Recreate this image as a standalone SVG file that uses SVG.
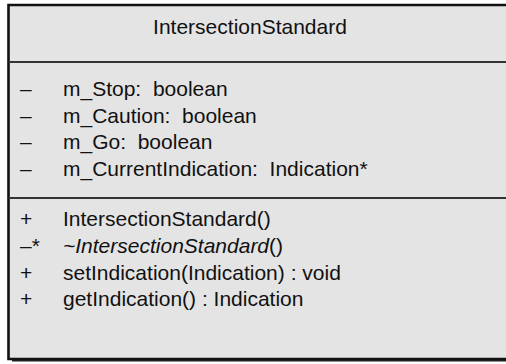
<svg xmlns="http://www.w3.org/2000/svg" width="506" height="364" viewBox="0 0 506 364">
<style>
text{font-family:"Liberation Sans",Arial,Helvetica,sans-serif;font-size:21px;fill:#111;white-space:pre}
.div{stroke:#333;stroke-width:2}
.edge{stroke:#111;stroke-width:2.6;fill:none}
</style>
<rect width="506" height="364" fill="#ffffff"/>
<g id="IntersectionStandard">
<rect x="12" y="8" width="494" height="353.5" fill="#222"/>
<rect x="8.5" y="5" width="497.5" height="354" fill="#e4e4e4"/>
<path class="edge" d="M506 5 H8.5 V359 H506"/>
<text x="250" y="34" text-anchor="middle">IntersectionStandard</text>
<line class="div" x1="8.5" y1="62" x2="506" y2="62"/>
<text x="20" y="96">–</text><text x="63" y="96" xml:space="preserve">m_Stop:  boolean</text>
<text x="20" y="122.5">–</text><text x="63" y="122.5" xml:space="preserve">m_Caution:  boolean</text>
<text x="20" y="149">–</text><text x="63" y="149" xml:space="preserve">m_Go:  boolean</text>
<text x="20" y="175.5">–</text><text x="63" y="175.5" xml:space="preserve">m_CurrentIndication:  Indication*</text>
<line class="div" x1="8.5" y1="198" x2="506" y2="198"/>
<text x="20" y="226">+</text><text x="63" y="226">IntersectionStandard()</text>
<text x="20" y="253">–*</text><text x="63" y="253"><tspan font-style="italic">~IntersectionStandard</tspan>()</text>
<text x="20" y="279.5">+</text><text x="63" y="279.5">setIndication(Indication) : void</text>
<text x="20" y="306">+</text><text x="63" y="306">getIndication() : Indication</text>
</g>
<g id="connectors"/>
</svg>
